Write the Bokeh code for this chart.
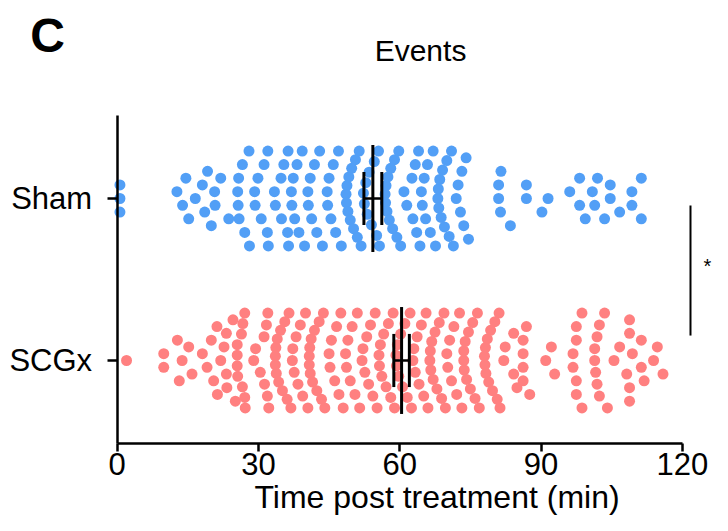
from bokeh.plotting import figure
from bokeh.models import FixedTicker, Label
from bokeh.embed import file_html
from bokeh.resources import INLINE

# ---------------- data (minutes post treatment, one value per event) ----------------
categories = ["SCGx", "Sham"]
tick_values = [0, 30, 60, 90, 120]

sham_times = [
    0.6, 0.6, 0.6,
    12.7, 13.9, 14.6, 15.2,
    16.6, 18.1, 18.6, 19.2, 20.0,
    20.7, 20.8, 22.0, 23.7,
    25.6, 25.7, 25.8, 25.9, 26.6, 27.1, 28.0, 28.1,
    29.2, 29.3, 29.9, 30.6, 31.2, 31.9, 32.0, 32.1,
    33.4, 33.6, 34.8, 34.9, 35.4, 36.2, 36.3, 36.4,
    37.0, 37.1, 37.4, 37.7, 38.2, 38.6, 39.3, 39.8,
    40.5, 40.6, 41.0, 41.3, 41.9, 42.4, 43.0, 43.6,
    44.6, 44.7, 45.0, 45.4, 45.9, 46.4, 47.0, 47.6,
    48.6, 48.7, 48.8, 49.0, 49.2, 49.5, 49.8, 50.2, 50.6, 51.0, 51.4, 51.8,
    52.3, 52.5, 52.8, 53.1, 53.5, 54.0, 54.6, 55.1, 55.5, 55.7,
    56.9, 57.0, 57.1, 57.3, 57.5, 57.8, 58.1, 58.5, 58.9, 59.4, 59.8, 60.2,
    60.9, 61.5, 62.6, 62.8, 63.3, 63.6, 64.0, 64.3,
    64.6, 64.8, 65.2, 65.5, 65.9, 66.5, 67.1, 67.6,
    68.1, 68.2, 68.3, 68.5, 68.8, 69.1, 69.5, 70.0, 70.5, 71.0, 71.4,
    72.0, 72.4, 72.9, 73.2, 73.6, 74.1, 74.6,
    81.0, 81.0, 81.4, 81.5, 83.5,
    86.9, 86.9, 90.2,
    91.5,
    96.1, 98.2, 98.2, 99.4,
    100.9, 101.4, 102.0, 103.5,
    104.7, 104.7, 106.7,
    109.3, 109.3, 111.3, 111.3,
]

scgx_times = [
    2.0,
    9.9, 9.9, 12.8, 13.2,
    13.8, 15.2, 15.9,
    18.1, 19.1, 20.0, 20.5, 21.2, 21.3,
    22.0, 22.7, 23.2, 23.2, 23.3, 24.6, 25.1,
    25.5, 25.5, 25.5, 25.6, 26.4, 26.6, 26.7, 27.1, 27.1, 27.2,
    29.0, 29.4, 30.4, 31.2, 31.3, 31.7, 31.9, 32.0, 32.2,
    33.6, 33.6, 33.7, 33.8, 34.0, 34.3, 34.7, 35.1, 35.6, 36.1, 36.5, 36.9,
    37.2, 37.3, 37.6, 38.0, 38.4, 38.9, 39.4, 40.0, 40.5,
    40.8, 40.8, 40.9, 41.0, 41.2, 41.5, 41.9, 42.4, 42.9, 43.4, 43.8, 44.1,
    45.0, 45.2, 45.5, 46.2, 46.6, 47.1, 47.5, 48.0,
    48.5, 48.7, 49.0, 49.5, 49.9, 50.5, 51.0, 51.5,
    52.0, 52.2, 52.6, 53.0, 53.4, 53.8, 54.3, 54.8, 55.2,
    55.6, 55.7, 55.9, 56.2, 56.6, 57.1, 57.6, 58.1, 58.6, 58.9,
    59.2, 59.3, 59.5, 59.8, 60.2, 60.6, 61.1, 61.6, 62.2, 62.5,
    62.8, 63.0, 63.3, 63.7, 64.1, 64.6, 65.1, 65.6, 66.0,
    66.4, 66.5, 66.6, 66.8, 67.1, 67.5, 67.9, 68.4, 68.9, 69.4, 69.7,
    70.0, 70.2, 70.6, 71.0, 71.5, 72.1, 72.7, 73.2,
    73.6, 73.6, 73.7, 73.9, 74.2, 74.6, 75.0, 75.5, 76.0, 76.5, 76.9,
    78.0, 78.1, 78.2, 78.3, 78.6, 78.9, 79.3, 79.7, 80.2, 80.7, 81.1, 81.3,
    82.1, 82.4, 84.2, 84.2, 84.9,
    86.2, 86.2, 86.2, 86.2, 86.9, 87.6,
    91.0, 92.2, 92.9,
    96.8, 96.8, 97.5, 97.5, 97.5, 97.5, 98.7, 98.7,
    101.4, 101.4, 101.6, 101.9, 101.9, 102.4, 102.4, 103.5, 104.1,
    105.5, 106.7, 108.2, 108.8, 108.8, 108.8, 108.8,
    109.4, 111.3, 111.3, 111.9,
    113.9, 114.7, 115.9,
]

sham_mean, sham_sem = 54.3, 1.9
scgx_mean, scgx_sem = 60.4, 1.65

# ---------------- layout helpers ----------------
SHAM_Y, SCGX_Y = 1.0, 0.0
BIN_W = 3.45        # minutes grouped in one column
UNIT = 0.0838       # vertical step between dots (data units)
MAX_HALF = 0.293    # half height of a swarm band
X_AXIS_AT = -0.512  # where the time axis crosses (data units of y)


def swarm(values, center):
    vals = sorted(values)
    xs, ys = [], []
    i = 0
    while i < len(vals):
        start = vals[i]
        j = i
        while j < len(vals) and vals[j] < start + BIN_W:
            j += 1
        grp = vals[i:j]
        n = len(grp)
        if n % 2:
            slots = [0.0] + [s * k for k in range(1, n // 2 + 1) for s in (1, -1)]
        else:
            slots = [s * (k + 0.5) for k in range(n // 2) for s in (1, -1)]
        maxslot = (n - 1) / 2.0
        step = UNIT if maxslot * UNIT <= MAX_HALF else MAX_HALF / maxslot
        for v, s in zip(grp, slots):
            xs.append(v)
            ys.append(center + s * step)
        i = j
    return xs, ys


p = figure(width=728, height=531, x_range=(-24.76, 129.81), y_range=(-1.0556, 2.2222),
           output_backend="svg", toolbar_location=None,
           min_border_left=0, min_border_right=0, min_border_top=0, min_border_bottom=0)
p.outline_line_color = None
p.xgrid.visible = False
p.ygrid.visible = False
p.background_fill_color = "white"
p.border_fill_color = "white"

sx, sy = swarm(sham_times, SHAM_Y)
rx, ry = swarm(scgx_times, SCGX_Y)
p.scatter(sx, sy, size=11, fill_color="#529FF6", line_color=None)
p.scatter(rx, ry, size=11, fill_color="#FF8080", line_color=None)

# mean and SEM
for m, se, c in [(sham_mean, sham_sem, SHAM_Y), (scgx_mean, scgx_sem, SCGX_Y)]:
    p.segment(x0=[m], y0=[c - 0.33], x1=[m], y1=[c + 0.33], line_color="black", line_width=3)
    p.segment(x0=[m - se, m + se], y0=[c - 0.164] * 2, x1=[m - se, m + se], y1=[c + 0.164] * 2,
              line_color="black", line_width=3)
    p.segment(x0=[m - se], y0=[c], x1=[m + se], y1=[c], line_color="black", line_width=2.5)

# significance bracket
p.segment(x0=[121.74], y0=[0.957], x1=[121.74], y1=[0.154], line_color="black", line_width=2)

font = "Liberation Sans"

# axes (crossing at the origin of the time axis)
xa = p.xaxis[0]
xa.fixed_location = X_AXIS_AT
xa.ticker = FixedTicker(ticks=tick_values)
xa.bounds = (0, 120)
xa.axis_line_width = 2.5
xa.major_tick_line_width = 2.5
xa.major_tick_out = 8
xa.major_tick_in = 0
xa.minor_tick_line_color = None
xa.major_label_text_font = font
xa.major_label_text_font_size = "31px"
xa.major_label_text_color = "black"
xa.major_label_standoff = 2
xa.axis_line_color = "black"
xa.major_tick_line_color = "black"

ya = p.yaxis[0]
ya.fixed_location = 0
ya.ticker = FixedTicker(ticks=[SCGX_Y, SHAM_Y])
ya.bounds = (X_AXIS_AT, 1.512)
ya.major_label_overrides = {0: categories[0], 1: categories[1]}
ya.axis_line_width = 2.5
ya.major_tick_line_width = 2.5
ya.major_tick_out = 10
ya.major_tick_in = 0
ya.minor_tick_line_color = None
ya.major_label_text_font = font
ya.major_label_text_font_size = "31px"
ya.major_label_text_color = "black"
ya.major_label_standoff = 15
ya.axis_line_color = "black"
ya.major_tick_line_color = "black"

p.add_layout(Label(x=125.35, y=0.586, text="*", text_font=font, text_font_size="20px",
                   text_align="center", text_baseline="middle", text_color="black"))
p.add_layout(Label(x=68.87, y=-0.8457, text="Time post treatment  (min)", text_font=font,
                   text_font_size="32px", text_align="center", text_baseline="middle",
                   text_color="black"))
p.add_layout(Label(x=64.42, y=1.9136, text="Events", text_font=font, text_font_size="30px",
                   text_align="center", text_baseline="middle", text_color="black"))
p.add_layout(Label(x=-14.78, y=2.006, text="C", text_font=font, text_font_size="48px",
                   text_font_style="bold", text_align="center", text_baseline="middle",
                   text_color="black"))

open("out.html", "w").write(file_html(p, INLINE))
